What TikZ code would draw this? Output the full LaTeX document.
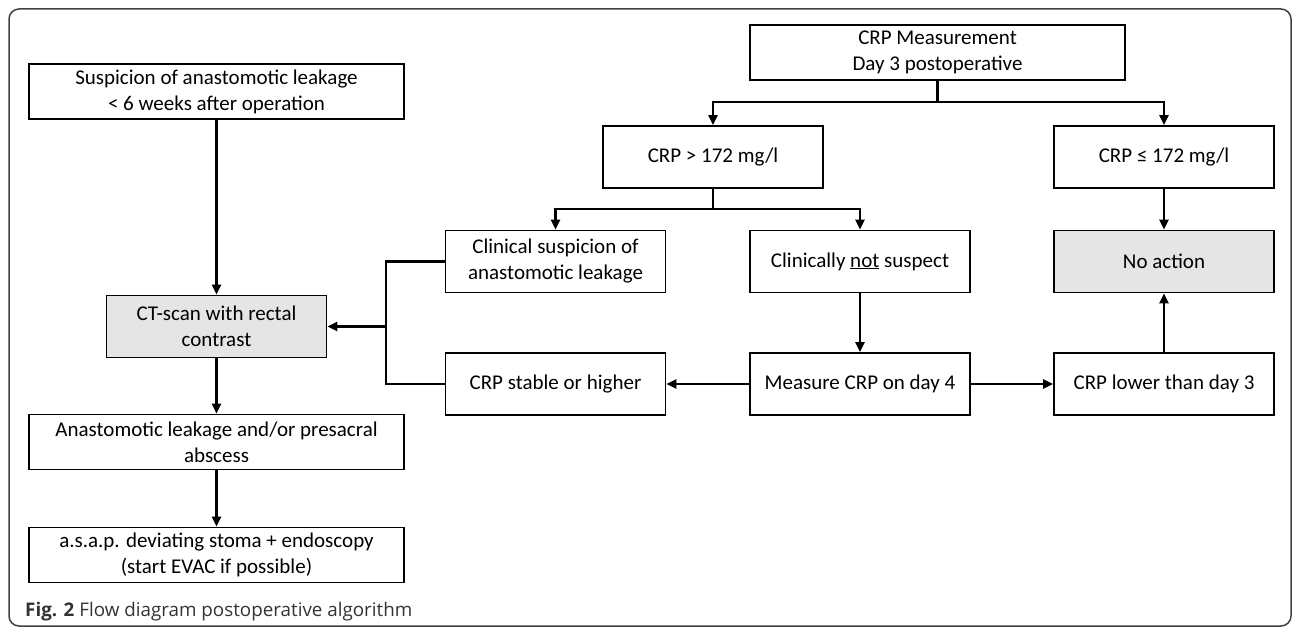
\documentclass[tikz,border=0pt]{standalone}
\usepackage{fontspec}
\setmainfont{Carlito}
\newfontfamily\capfont{Open Sans}
\usetikzlibrary{arrows.meta}
\begin{document}
\begin{tikzpicture}[x=1pt,y=-1pt,
  box/.style={draw=black,line width=1.7pt,rectangle,align=center,inner sep=0pt,
    font=\fontsize{21}{26}\selectfont,text=black},
  wide/.style={box,minimum width=375pt,minimum height=55pt},
  small/.style={box,minimum width=220pt,minimum height=62pt},
  grey/.style={fill=black!10},
  ln/.style={line width=2.6pt},
  arr/.style={ln,-{Triangle[length=10pt,width=9pt]}}]
\useasboundingbox (0,0) rectangle (1295,628);
\draw[rounded corners=10pt,line width=1.5pt,draw=black!75] (9,9) rectangle (1291,626);
% right tree
\node[wide] (top) at (937.5,52.5) {CRP Measurement\\Day 3 postoperative};
\node[small] (gt) at (713,157) {CRP > 172 mg/l};
\node[small] (le) at (1164,157) {CRP ≤ 172 mg/l};
\node[small] (clin) at (555.5,261.5) {Clinical suspicion of\\anastomotic leakage};
\node[small] (nots) at (860,261.5) {Clinically \underline{not} suspect};
\node[small,grey] (noact) at (1164,261.5) {No action};
\node[small] (stable) at (555.5,384) {CRP stable or higher};
\node[small] (meas) at (860,384) {Measure CRP on day 4};
\node[small] (lower) at (1164,384) {CRP lower than day 3};
% left column
\node[wide] (susp) at (216.5,91.5) {Suspicion of anastomotic leakage\\< 6 weeks after operation};
\node[small,grey] (ct) at (216.5,326.5) {CT-scan with rectal\\contrast};
\node[wide] (anast) at (216.5,442) {Anastomotic leakage and/or presacral\\abscess};
\node[wide] (asap) at (216.5,555) {a.s.a.p. deviating stoma + endoscopy\\(start EVAC if possible)};
% connectors
\coordinate (b1) at (937.5,102);
\coordinate (b2) at (713,209);
\draw[ln] (top.south) -- (b1);
\draw[arr] (b1) -| (gt.north);
\draw[arr] (b1) -| (le.north);
\draw[ln] (gt.south) -- (b2);
\draw[arr] (b2) -| (clin.north);
\draw[arr] (b2) -| (nots.north);
\draw[arr] (le.south) -- (noact.north);
\draw[arr] (nots.south) -- (meas.north);
\draw[arr] (meas.west) -- (stable.east);
\draw[arr] (meas.east) -- (lower.west);
\draw[arr] (lower.north) -- (noact.south);
\coordinate (j) at (386,326.5);
\draw[ln] (clin.west) -| (j) |- (stable.west);
\draw[arr] (j) -- (ct.east);
\draw[arr] (susp.south) -- (ct.north);
\draw[arr] (ct.south) -- (anast.north);
\draw[arr] (anast.south) -- (asap.north);
% caption
\node[anchor=base west,inner sep=0pt,font=\capfont\fontsize{18.8}{22}\selectfont,text=black!80] (cap) at (25,616)
  {\textbf{Fig. 2} Flow diagram postoperative algorithm};
\end{tikzpicture}
\end{document}
